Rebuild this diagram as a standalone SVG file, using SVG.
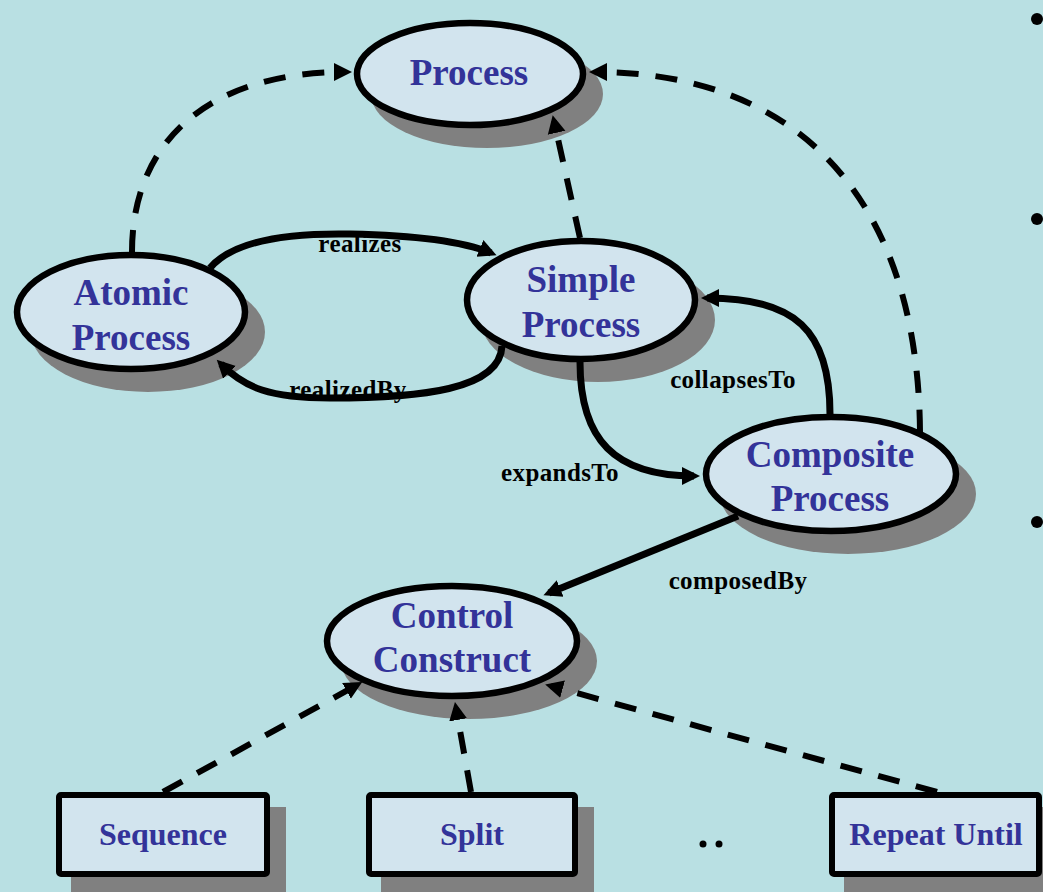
<svg xmlns="http://www.w3.org/2000/svg" width="1043" height="892" viewBox="0 0 1043 892">
<defs>
<marker id="ah" markerWidth="20" markerHeight="20" refX="12" refY="10" orient="auto" markerUnits="userSpaceOnUse">
<path d="M0,1 L18,10 L0,19 z" fill="#000"/>
</marker>
<style>
.bg{fill:#B9E0E3}
.shadow{fill:#808080}
.node{fill:#D2E4EE;stroke:#000;stroke-width:6.5}
.box{fill:#D2E4EE;stroke:#000;stroke-width:6}
.nlabel{font-family:"Liberation Serif","Times New Roman",serif;font-weight:bold;font-size:37px;fill:#333399;text-anchor:middle}
.blabel{font-family:"Liberation Serif","Times New Roman",serif;font-weight:bold;font-size:32px;fill:#333399;text-anchor:middle}
.elabel{font-family:"Liberation Serif","Times New Roman",serif;font-weight:bold;font-size:25px;letter-spacing:0.4px;fill:#000;text-anchor:middle}
.solid{fill:none;stroke:#000;stroke-width:7;marker-end:url(#ah)}
.dash{fill:none;stroke:#000;stroke-width:6;stroke-dasharray:22 17;marker-end:url(#ah)}
</style>
</defs>
<rect class="bg" x="0" y="0" width="1043" height="892"/>

<g id="node-process">
<ellipse class="shadow" cx="487" cy="94" rx="116" ry="54"/>
<ellipse class="node" cx="470" cy="74" rx="113" ry="51"/>
<text class="nlabel" x="469" y="85">Process</text>
</g>
<g id="node-atomic">
<ellipse class="shadow" cx="148" cy="332" rx="117" ry="60"/>
<ellipse class="node" cx="131" cy="312" rx="114" ry="57"/>
<text class="nlabel" x="131" y="305">Atomic</text>
<text class="nlabel" x="131" y="350">Process</text>
</g>
<g id="node-simple">
<ellipse class="shadow" cx="598" cy="320" rx="117" ry="62"/>
<ellipse class="node" cx="581" cy="300" rx="114" ry="59"/>
<text class="nlabel" x="581" y="292">Simple</text>
<text class="nlabel" x="581" y="337">Process</text>
</g>
<g id="node-composite">
<ellipse class="shadow" cx="848" cy="494" rx="128" ry="60"/>
<ellipse class="node" cx="831" cy="474" rx="125" ry="57"/>
<text class="nlabel" x="830" y="467">Composite</text>
<text class="nlabel" x="830" y="511">Process</text>
</g>
<g id="node-control">
<ellipse class="shadow" cx="469" cy="661" rx="128" ry="58"/>
<ellipse class="node" cx="452" cy="641" rx="125" ry="55"/>
<text class="nlabel" x="452" y="628">Control</text>
<text class="nlabel" x="452" y="672">Construct</text>
</g>
<g id="node-sequence">
<rect class="shadow" x="71" y="807" width="215" height="90"/>
<rect class="box" x="59" y="795" width="208" height="79" rx="2"/>
<text class="blabel" x="163" y="845">Sequence</text>
</g>
<g id="node-split">
<rect class="shadow" x="381" y="807" width="213" height="90"/>
<rect class="box" x="369" y="795" width="206" height="79" rx="2"/>
<text class="blabel" x="472" y="845">Split</text>
</g>
<g id="node-repeat">
<rect class="shadow" x="844" y="807" width="199" height="90"/>
<rect class="box" x="832" y="795" width="207" height="79" rx="2"/>
<text class="blabel" x="936" y="845">Repeat Until</text>
</g>

<g id="connectors">
<path class="dash" d="M132,252 C132,140 210,72 346,72"/>
<path class="dash" d="M580,238 L554,121"/>
<path class="dash" d="M920,432 C918,190 790,72 595,72"/>
<path class="solid" d="M210,268 Q240,232 350,234 Q450,236 491,253"/>
<path class="solid" d="M502,346 C500,390 420,398 330,398 C270,398 245,388 221,364"/>
<path class="solid" d="M830,414 C830,330 795,298 707,298"/>
<path class="solid" d="M580,362 C580,440 615,476 694,476"/>
<path class="solid" d="M738,516 L549,593"/>
<path class="dash" d="M163,792 L357,685"/>
<path class="dash" d="M471,792 L456,708"/>
<path class="dash" d="M937,792 L551,686"/>
<text class="elabel" x="360" y="252">realizes</text>
<text class="elabel" x="348" y="398">realizedBy</text>
<text class="elabel" x="733" y="388">collapsesTo</text>
<text class="elabel" x="560" y="481">expandsTo</text>
<text class="elabel" x="738" y="589">composedBy</text>
</g>

<g id="bullets">
<circle cx="1037" cy="19" r="6"/>
<circle cx="1037" cy="219" r="6"/>
<circle cx="1037" cy="522" r="6"/>
<circle cx="703" cy="844" r="3.5"/>
<circle cx="719" cy="844" r="3.5"/>
</g>
</svg>
